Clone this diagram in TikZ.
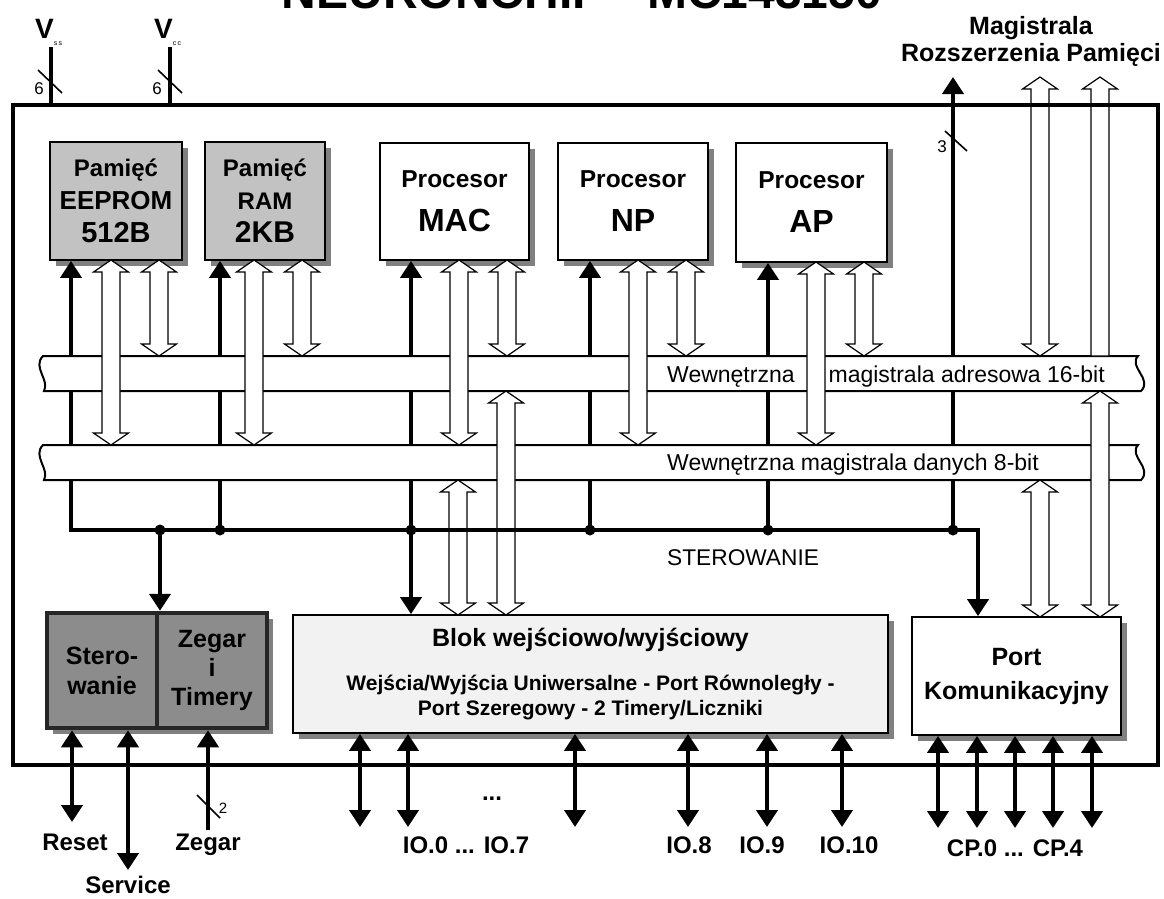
\documentclass[tikz,border=0pt]{standalone}
\usepackage{fontspec}
\setmainfont{Liberation Sans}
\usetikzlibrary{arrows.meta,shadows}
\definecolor{memgray}{gray}{0.76}
\definecolor{ctrlgray}{gray}{0.55}
\definecolor{iogray}{gray}{0.95}
\definecolor{shadegray}{gray}{0.5}
\newcommand{\fsz}[2]{\fontsize{#1}{#2}\selectfont}
\newcommand{\hollowboth}[3]{\draw[hollow] (#1-9,#2+12) -- (#1-17.5,#2+12) -- (#1,#2) -- (#1+17.5,#2+12) -- (#1+9,#2+12) -- (#1+9,#3-12) -- (#1+17.5,#3-12) -- (#1,#3) -- (#1-17.5,#3-12) -- (#1-9,#3-12) -- cycle;}
\newcommand{\hollowup}[3]{\draw[hollow] (#1-9,#3) -- (#1-9,#2+12) -- (#1-17.5,#2+12) -- (#1,#2) -- (#1+17.5,#2+12) -- (#1+9,#2+12) -- (#1+9,#3) -- cycle;}
\begin{document}
\begin{tikzpicture}[x=1pt,y=-1pt,
  BigTri/.tip={Triangle[width=21pt,length=17pt]},
  wire/.style={line width=4pt},
  thinslash/.style={line width=1.6pt},
  hollow/.style={draw=black, line width=1.2pt, fill=white, line join=miter},
  busline/.style={draw=black, line width=2pt, fill=white},
  boxshadow/.style={drop shadow={shadow xshift=6pt, shadow yshift=-6pt, fill=shadegray, opacity=1}},
  membox/.style={draw=black, line width=1.8pt, fill=memgray, boxshadow, inner sep=0pt, align=center},
  procbox/.style={draw=black, line width=1.8pt, fill=white, boxshadow, inner sep=0pt, align=center},
  ctrlbox/.style={draw=black!85, line width=4.5pt, fill=ctrlgray, boxshadow, inner sep=0pt, align=center, font=\bfseries\fsz{25}{30}},
  lbl/.style={font=\bfseries\fsz{24}{28}, inner sep=0pt, anchor=base},
  small/.style={font=\fsz{17}{18}, inner sep=0pt, anchor=base},
  bustext/.style={font=\fsz{23}{26}, inner sep=0pt, anchor=base west},
  dot/.style={circle, fill=black, inner sep=0pt, minimum size=11pt},
]
\useasboundingbox (0,0) rectangle (1164,898);
\clip (0,0) rectangle (1164,898);

% title (cut off at the top edge, as in the reference)
\node[font=\bfseries\fsz{48}{50}, anchor=base, inner sep=0pt] (title) at (582,8) {NEURONCHIP - MC143150};

% chip outline (drawn later)
\node[minimum width=1145pt, minimum height=660pt, inner sep=0pt] (chip) at (585.5,435) {};

% boxes
\node[membox, minimum width=132pt, minimum height=118pt, font=\bfseries\fsz{24}{33}] (eeprom) at (116,201)
  {Pamięć\\\fsz{26}{33}EEPROM\\\fsz{29}{33}512B};
\node[membox, minimum width=120pt, minimum height=118pt, font=\bfseries\fsz{24}{33}] (ram) at (265,201)
  {Pamięć\\RAM\\\fsz{30}{33}2KB};
\node[procbox, minimum width=149pt, minimum height=117pt, font=\bfseries\fsz{24.5}{44}] (mac) at (454.5,201.5)
  {Procesor\\\fsz{32}{44}MAC};
\node[procbox, minimum width=150pt, minimum height=117pt, font=\bfseries\fsz{24.5}{44}] (np) at (633,201.5)
  {Procesor\\\fsz{32}{44}NP};
\node[procbox, minimum width=151pt, minimum height=119pt, font=\bfseries\fsz{24.5}{44}] (ap) at (811.5,202.5)
  {Procesor\\\fsz{32}{44}AP};

\node[ctrlbox, minimum width=110pt, minimum height=115pt] (stw) at (102,670.5) {Stero-\\wanie};
\node[ctrlbox, minimum width=110pt, minimum height=115pt, font=\bfseries\fsz{25}{29}] (zeg) at (212,670.5) {Zegar\\i\\Timery};
\node[procbox, fill=iogray, minimum width=595pt, minimum height=118pt, font=\bfseries\fsz{21}{25}] (io) at (590.5,674)
  {\fsz{25}{25}Blok wejściowo/wyjściowy\\[19pt]Wejścia/Wyjścia Uniwersalne - Port Równoległy -\\Port Szeregowy - 2 Timery/Liczniki};
\node[procbox, minimum width=209pt, minimum height=118pt, font=\bfseries\fsz{25}{34}] (port) at (1016.5,676)
  {Port\\Komunikacyjny};

% supply pins
\node[font=\bfseries\fsz{28}{30}, anchor=base west, inner sep=0pt] (vss) at (35,38) {V\raisebox{-7pt}{\mdseries\fsz{7}{8}s\,s}};
\node[font=\bfseries\fsz{28}{30}, anchor=base west, inner sep=0pt] (vcc) at (154,38) {V\raisebox{-7pt}{\mdseries\fsz{7}{8}c\,c}};
\coordinate (vssend) at (51,47);
\coordinate (vccend) at (170,47);
\draw[wire] (vssend) -- (vssend |- chip.north);
\draw[wire] (vccend) -- (vccend |- chip.north);
\draw[thinslash] (38,70) -- (62,93);
\draw[thinslash] (158,70) -- (182,93);
\node[small] (six1) at (39,94) {6};
\node[small] (six2) at (157,94) {6};

% control coordinates
\coordinate (cL) at (71,530);
\coordinate (cS) at (160,530);
\coordinate (cR) at (220,530);
\coordinate (cM) at (411,530);
\coordinate (cN) at (590,530);
\coordinate (cA) at (768,530);
\coordinate (cE) at (953,530);
\coordinate (cP) at (978,530);
\coordinate (extbus) at (953,77);

\draw[wire,{BigTri}-{BigTri}] (cL |- eeprom.south) -- (cL) -- (cP) -- (cP |- port.north);
\draw[wire,-{BigTri}] (cR) -- (cR |- ram.south);
\draw[wire,-{BigTri}] (cM) -- (cM |- mac.south);
\draw[wire,-{BigTri}] (cN) -- (cN |- np.south);
\draw[wire,-{BigTri}] (cA) -- (cA |- ap.south);
\draw[wire,-{BigTri}] (cE) -- (extbus);
\draw[thinslash] (945,131) -- (967,151);
\node[small] (three) at (942,152) {3};

% buses
\draw[busline] (43,356) -- (1138,356) .. controls (1128,367) and (1153,379) .. (1141,391)
  -- (44,391) .. controls (50,380) and (32,367) .. (43,356) -- cycle;
\draw[busline] (43,445) -- (1138,445) .. controls (1128,456) and (1153,468) .. (1141,480)
  -- (44,480) .. controls (50,469) and (32,456) .. (43,445) -- cycle;
\node[bustext] (abustxt) at (667,382) {Wewnętrzna\hspace*{34pt}magistrala adresowa 16-bit};
\node[bustext] (dbustxt) at (667,470) {Wewnętrzna magistrala danych 8-bit};

% hollow bus arrows
\hollowboth{111}{260}{445}
\hollowboth{159}{260}{356}
\hollowboth{254}{260}{445}
\hollowboth{302}{260}{356}
\hollowboth{459}{260}{445}
\hollowboth{507}{260}{356}
\hollowboth{638}{260}{445}
\hollowboth{686}{260}{356}
\hollowboth{816}{262}{445}
\hollowboth{864}{262}{356}
\hollowboth{458}{480}{615}
\hollowboth{506}{391}{615}
\hollowboth{1040}{480}{617}
\hollowboth{1100}{391}{617}
\hollowboth{1040}{77}{356}
\hollowup{1100}{77}{356}

% control line on top of the hollow arrows
\draw[wire] (cL) -- (cP);
\draw[wire,-{BigTri}] (cS) -- (cS |- stw.north);
\draw[wire,-{BigTri}] (cM) -- (cM |- io.north);
\foreach \c in {cS,cR,cM,cN,cA,cE} \node[dot] at (\c) {};
\node[font=\fsz{22.7}{26}, inner sep=0pt, anchor=base west] (sterlbl) at (667,565) {STEROWANIE};

% chip outline
\draw[line width=4.5pt] (chip.north west) rectangle (chip.south east);

% external memory bus label
\node[font=\bfseries\fsz{25}{27}, align=center, inner sep=0pt] (maglbl) at (1031,41) {Magistrala\\Rozszerzenia Pamięci};

% bottom pins
\coordinate (resetend) at (72,822);
\coordinate (serviceend) at (128,870);
\coordinate (zegend) at (208,830);
\draw[wire,{BigTri}-{BigTri}] (resetend |- stw.south) -- (resetend);
\draw[wire,{BigTri}-{BigTri}] (serviceend |- stw.south) -- (serviceend);
\draw[wire,-{BigTri}] (zegend) -- (zegend |- zeg.south);
\draw[thinslash] (197,795) -- (220,818);
\node[small, font=\fsz{15}{16}] (two) at (223,813) {2};

\foreach \x/\n in {360/a,408/b,575/c,688/d,767/e,842/f} {
  \coordinate (io\n) at (\x,827);
  \draw[wire,{BigTri}-{BigTri}] (io\n |- io.south) -- (io\n);
}
\foreach \x/\n in {938/a,977/b,1015/c,1053/d,1092/e} {
  \coordinate (cp\n) at (\x,828);
  \draw[wire,{BigTri}-{BigTri}] (cp\n |- port.south) -- (cp\n);
}

\node[lbl] (reset) at (75,850) {Reset};
\node[lbl] (service) at (128,893) {Service};
\node[lbl] (zegarlbl) at (208,850) {Zegar};
\node[lbl] (dots) at (492,800) {...};
\node[lbl] (io07) at (466,853) {IO.0 ... IO.7};
\node[lbl] (io8) at (689,853) {IO.8};
\node[lbl] (io9) at (762,853) {IO.9};
\node[lbl] (io10) at (849,853) {IO.10};
\node[lbl] (cplbl) at (1015,856) {CP.0 ... CP.4};
\end{tikzpicture}
\end{document}
